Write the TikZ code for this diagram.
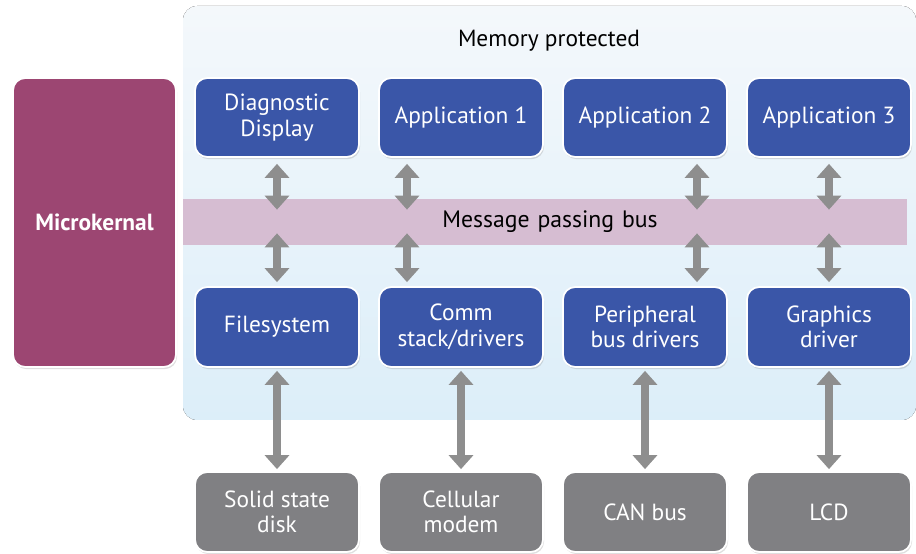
\documentclass[tikz,border=0pt]{standalone}
\usepackage{fontspec}
\setmainfont{PT Sans}
\usetikzlibrary{arrows.meta,shadows}
\definecolor{appblue}{HTML}{3A56A8}
\definecolor{kernred}{HTML}{9C4672}
\definecolor{hwgray}{HTML}{808083}
\definecolor{busmauve}{HTML}{D6BDD2}
\definecolor{arrowgray}{HTML}{8E8E8E}
\definecolor{memtop}{HTML}{F4F8FB}
\definecolor{membot}{HTML}{DCEEF9}
\tikzset{
  box/.style={rounded corners=7pt, draw=white, line width=1pt, minimum width=3.28cm, minimum height=1.58cm,
    inner sep=2pt, align=center, text=white, font=\fontsize{13.3}{14.5}\selectfont,
    drop shadow={shadow xshift=0.6pt, shadow yshift=-1.2pt, opacity=0.25}},
  appbox/.style={box, fill=appblue},
  hwbox/.style={box, fill=hwgray},
  biarrow/.style={draw=arrowgray, line width=0.16cm, {Triangle[width=0.48cm,length=0.28cm]}-{Triangle[width=0.48cm,length=0.28cm]}},
}
\begin{document}
\begin{tikzpicture}
\useasboundingbox (0,0) rectangle (18.32,11.08);
% memory protected area
\fill [top color=memtop, bottom color=membot, rounded corners=8pt] (3.66,2.68) rectangle (18.32,10.96);
\node (memlabel) at (10.98,10.26) {\fontsize{13.3}{15}\selectfont Memory protected};
\node [fill=busmauve, minimum width=14.48cm, minimum height=0.92cm, inner sep=0pt, text width=14.3cm, align=center, font=\fontsize{13.5}{15}\selectfont] (bus) at (10.9,6.64) {\hspace*{0.2cm}Message passing bus};
\node [box, fill=kernred, minimum width=3.26cm, minimum height=5.78cm, font=\fontsize{13.3}{15}\selectfont\bfseries] (kernel) at (1.89,6.63) {Microkernal};

% upper row
\node [appbox] (diag) at (5.54,8.73) {Diagnostic\\Display};
\node [appbox] (app1) at (9.22,8.73) {Application 1};
\node [appbox] (app2) at (12.9,8.73) {Application 2};
\node [appbox] (app3) at (16.58,8.73) {Application 3};

% driver row
\node [appbox, minimum height=1.6cm] (fs) at (5.54,4.54) {Filesystem};
\node [appbox, minimum height=1.6cm] (comm) at (9.22,4.54) {Comm\\stack/drivers};
\node [appbox, minimum height=1.6cm] (periph) at (12.9,4.54) {Peripheral\\bus drivers};
\node [appbox, minimum height=1.6cm] (gfx) at (16.58,4.54) {Graphics\\driver};

% hardware
\node [hwbox, minimum height=1.6cm] (ssd) at (5.54,0.84) {Solid state\\disk};
\node [hwbox, minimum height=1.6cm] (modem) at (9.22,0.84) {Cellular\\modem};
\node [hwbox, minimum height=1.6cm] (can) at (12.9,0.84) {CAN bus};
\node [hwbox, minimum height=1.6cm] (lcd) at (16.58,0.84) {LCD};

% to and from the bus
\draw [biarrow] ([yshift=-0.12cm]diag.south) -- ([yshift=-0.22cm]diag.south |- bus.north);
\draw [biarrow] ([xshift=-1.08cm,yshift=-0.12cm]app1.south) -- ([xshift=-1.08cm,yshift=-0.22cm]app1.south |- bus.north);
\draw [biarrow] ([xshift=1.04cm,yshift=-0.12cm]app2.south) -- ([xshift=1.04cm,yshift=-0.22cm]app2.south |- bus.north);
\draw [biarrow] ([yshift=-0.12cm]app3.south) -- ([yshift=-0.22cm]app3.south |- bus.north);
\draw [biarrow] ([yshift=0.24cm]fs.north |- bus.south) -- ([yshift=0.08cm]fs.north);
\draw [biarrow] ([xshift=-1.08cm,yshift=0.24cm]comm.north |- bus.south) -- ([xshift=-1.08cm,yshift=0.08cm]comm.north);
\draw [biarrow] ([xshift=1.04cm,yshift=0.24cm]periph.north |- bus.south) -- ([xshift=1.04cm,yshift=0.08cm]periph.north);
\draw [biarrow] ([yshift=0.24cm]gfx.north |- bus.south) -- ([yshift=0.08cm]gfx.north);

% drivers to hardware
\draw [biarrow] ([yshift=-0.06cm]fs.south) -- ([yshift=0.04cm]ssd.north);
\draw [biarrow] ([yshift=-0.06cm]comm.south) -- ([yshift=0.04cm]modem.north);
\draw [biarrow] ([yshift=-0.06cm]periph.south) -- ([yshift=0.04cm]can.north);
\draw [biarrow] ([yshift=-0.06cm]gfx.south) -- ([yshift=0.04cm]lcd.north);
\end{tikzpicture}
\end{document}
